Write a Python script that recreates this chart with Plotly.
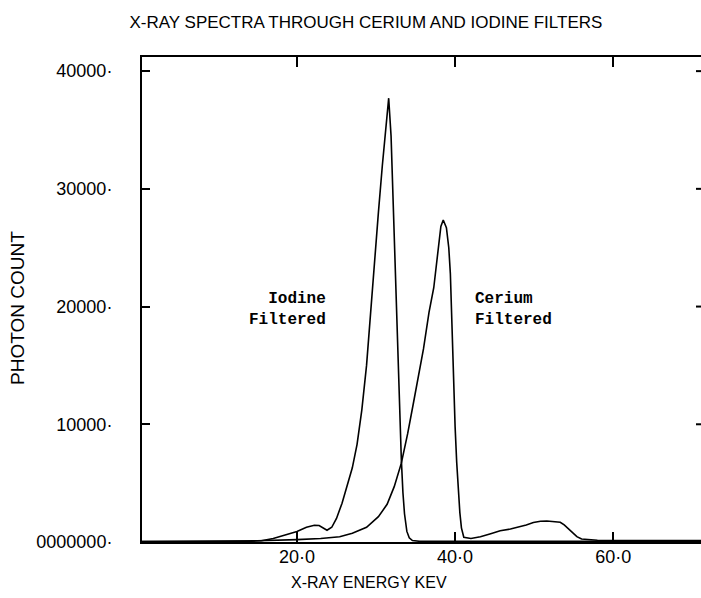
import plotly.graph_objects as go

# Transmitted X-ray spectra (photon count vs. energy in keV)
iodine_kev = [0.4, 5, 10, 14, 15.5, 17, 18.5, 20, 21.2, 22.2, 22.8, 23.3, 23.8,
              24.4, 25.0, 25.7, 26.4, 27.0, 27.6, 28.2, 28.8, 29.3, 29.8, 30.3,
              30.8, 31.2, 31.6, 31.9, 32.1, 32.4, 32.6, 32.8, 33.0, 33.2, 33.4,
              33.6, 33.9, 34.2, 34.6, 35.5, 45, 60, 71.6]
iodine_counts = [30, 30, 40, 60, 110, 300, 600, 900, 1250, 1420, 1400, 1200, 1000,
                 1250, 2000, 3300, 4800, 6300, 8300, 11200, 15000, 19500, 23500, 28000,
                 32000, 35200, 37700, 34500, 30000, 24500, 20500, 15500, 10500, 7000, 4200,
                 2400, 900, 350, 120, 60, 60, 60, 60]

cerium_kev = [0.4, 10, 15, 20, 23, 25.4, 27.0, 28.8, 30.3, 31.4, 32.3, 33.2, 34.0,
              34.7, 35.4, 36.0, 36.7, 37.3, 37.8, 38.2, 38.5, 38.9, 39.2, 39.4, 39.6,
              39.8, 40.0, 40.2, 40.4, 40.6, 40.8, 41.1, 42.0, 43.2, 44.5, 45.7, 47.0,
              47.8, 49.0, 49.9, 50.8, 51.6, 52.5, 53.3, 53.8, 54.3, 54.9, 55.4, 56.0,
              58, 71.6]
cerium_counts = [30, 40, 100, 200, 300, 450, 740, 1250, 2150, 3200, 4700, 6700, 9200,
                 11700, 14300, 16400, 19500, 21600, 24500, 26800, 27350, 26700, 25000, 22800, 18500,
                 13500, 9800, 6800, 4200, 2500, 1200, 400, 300, 450, 700, 950, 1100,
                 1220, 1450, 1650, 1760, 1790, 1760, 1680, 1450, 1150, 750, 450, 250,
                 150, 120]

x_ticks = [20, 40, 60]
x_tick_labels = ["20·0", "40·0", "60·0"]
y_ticks = [0, 10000, 20000, 30000, 40000]
y_tick_labels = ["0000000·", "10000·", "20000·", "30000·", "40000·"]

plot_font = "Liberation Sans"
label_font = "Liberation Mono"

fig = go.Figure()
fig.add_trace(go.Scatter(x=iodine_kev, y=iodine_counts, mode="lines",
                         line=dict(color="black", width=1.6), name="Iodine Filtered"))
fig.add_trace(go.Scatter(x=cerium_kev, y=cerium_counts, mode="lines",
                         line=dict(color="black", width=1.6), name="Cerium Filtered"))

fig.update_layout(
    width=701, height=598,
    margin=dict(l=142, r=0, t=57, b=56),
    paper_bgcolor="white", plot_bgcolor="white",
    showlegend=False,
    title=dict(text="X-RAY SPECTRA THROUGH CERIUM AND IODINE FILTERS",
               xref="container", yref="container", x=0.522, y=0.963,
               xanchor="center", yanchor="middle",
               font=dict(family=plot_font, size=17, color="black")),
)

fig.update_xaxes(
    range=[0.4, 71.1], tickvals=x_ticks, ticktext=x_tick_labels,
    ticks="inside", ticklen=10, tickwidth=1.5, tickcolor="black",
    showline=True, linewidth=2, linecolor="black", mirror="ticks",
    showgrid=False, zeroline=False, ticklabelstandoff=-3,
    tickfont=dict(family=plot_font, size=18, color="black"),
)
fig.update_yaxes(
    range=[0, 41200], tickvals=y_ticks, ticktext=y_tick_labels,
    ticks="inside", ticklen=8, tickwidth=1.5, tickcolor="black",
    showline=True, linewidth=2, linecolor="black",
    showgrid=False, zeroline=False, ticklabelstandoff=24,
    tickfont=dict(family=plot_font, size=18, color="black"),
)

# short tick marks along the right-hand edge
for v in y_ticks:
    fig.add_shape(type="line", xref="paper", yref="y", x0=1 - 5 / 559, x1=1,
                  y0=v, y1=v, line=dict(color="black", width=2))

fig.add_annotation(text="PHOTON COUNT", xref="paper", yref="paper",
                   x=-0.2218, y=0.4825, textangle=-90, showarrow=False,
                   xanchor="center", yanchor="middle",
                   font=dict(family=plot_font, size=19, color="black"))
fig.add_annotation(text="X-RAY ENERGY KEV", xref="paper", yref="paper",
                   x=0.406, y=-0.0845, showarrow=False,
                   xanchor="center", yanchor="middle",
                   font=dict(family=plot_font, size=16, color="black"))

fig.add_annotation(text="<b>Iodine</b><br><b>Filtered</b>", x=23.9, y=19760,
                   xanchor="right", yanchor="middle", align="right", showarrow=False,
                   font=dict(family=label_font, size=16, color="black"))
fig.add_annotation(text="<b>Cerium</b><br><b>Filtered</b>", x=42.3, y=19760,
                   xanchor="left", yanchor="middle", align="left", showarrow=False,
                   font=dict(family=label_font, size=16, color="black"))

fig.write_html("out.html")
